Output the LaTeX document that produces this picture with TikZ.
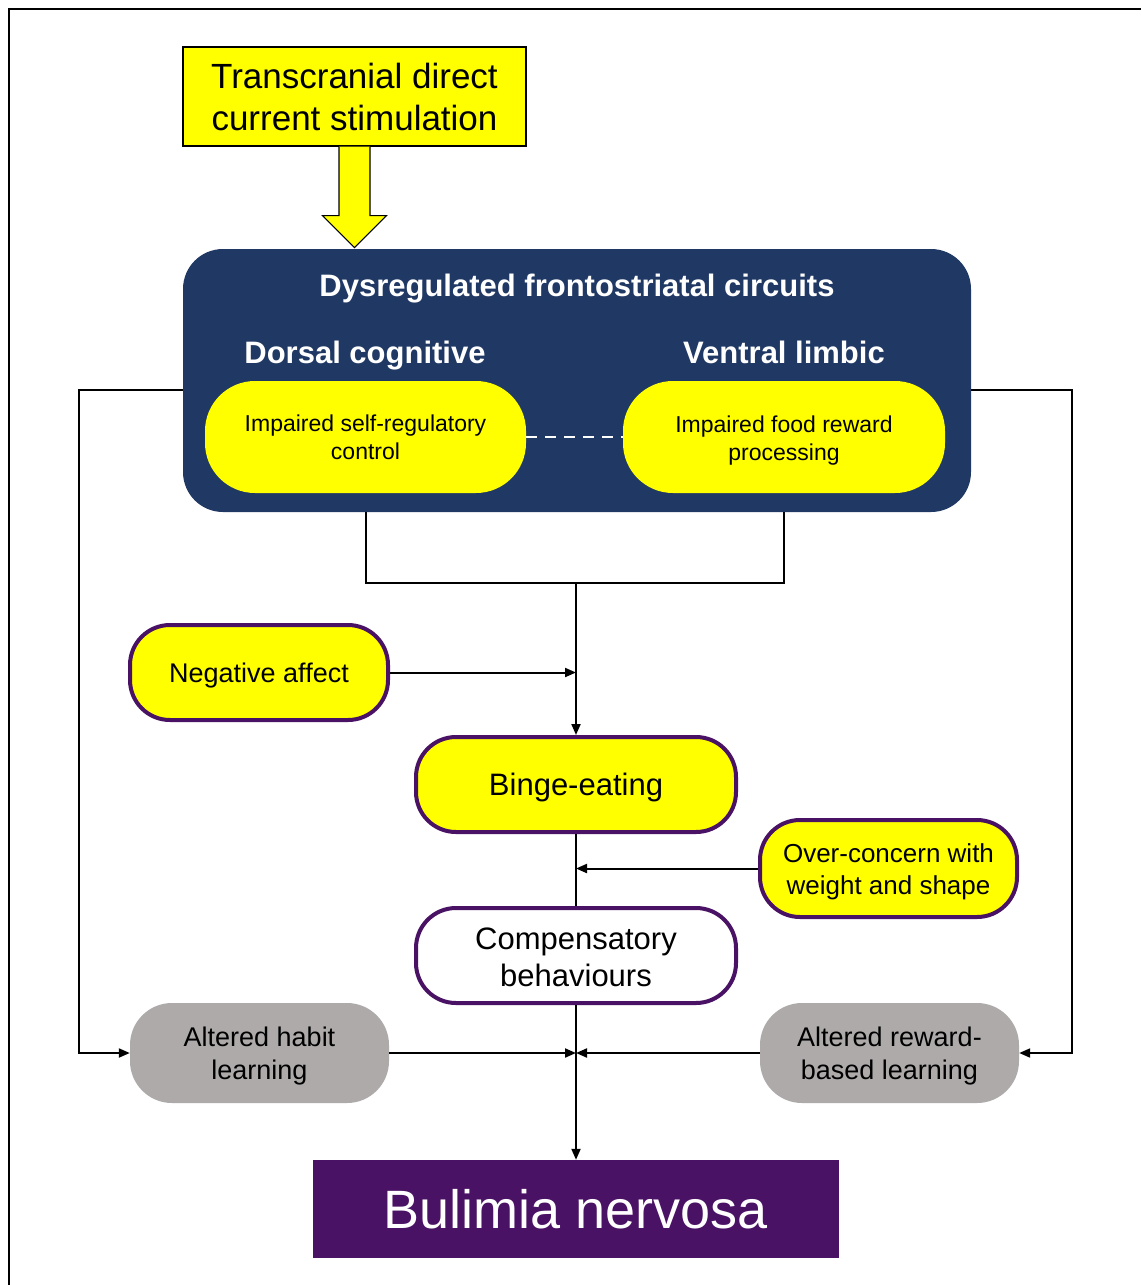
\documentclass[tikz,border=0pt]{standalone}
\usepackage{fontspec}
\setmainfont{Liberation Sans}
\usetikzlibrary{arrows.meta,calc}
\definecolor{navy}{RGB}{32,56,100}
\definecolor{bnpurple}{RGB}{74,18,100}
\definecolor{ygold}{RGB}{255,255,0}
\definecolor{greyfill}{RGB}{174,170,170}
\newcommand{\fsz}[2]{\fontsize{#1pt}{#2pt}\selectfont}
\begin{document}
\begin{tikzpicture}[x=1pt,y=-1pt,
  conn/.style={line width=2pt},
  arr/.style={conn,-{Triangle[length=11pt,width=9pt]}},
  pill/.style={draw=bnpurple,line width=4pt,fill=ygold,rounded corners=40pt,inner sep=0pt,align=center},
  whitepill/.style={pill,fill=white},
  innerpill/.style={fill=ygold,rounded corners=50pt,inner sep=0pt,align=center,font=\fsz{23}{28}},
  greybox/.style={fill=greyfill,rounded corners=42pt,inner sep=0pt,align=center},
  ptext/.style={align=center,inner sep=0pt,text=black},
  headtext/.style={text=white,font=\bfseries\fsz{31}{37},inner sep=0pt}
]
\useasboundingbox (0,0) rectangle (1141,1285);
\fill[white] (0,0) rectangle (1141,1285);
\draw[line width=2.5pt] (9,1285) -- (9,9) -- (1141,9);

% tDCS box
\node[draw=black,line width=1.2pt,fill=ygold,minimum width=343pt,minimum height=99pt,inner sep=0pt,align=center,font=\fsz{35}{42}] (tdcs) at (354.5,96.5) {Transcranial direct\\current stimulation};
\draw[fill=ygold,line width=1.2pt,line join=miter]
  ($(tdcs.south)+(-15.5,0)$) -- ($(tdcs.south)+(-15.5,69)$) -- ($(tdcs.south)+(-32,69)$) --
  ($(tdcs.south)+(0,101)$) -- ($(tdcs.south)+(32,69)$) -- ($(tdcs.south)+(15.5,69)$) --
  ($(tdcs.south)+(15.5,0)$);

% circuits box
\node[fill=navy,rounded corners=40pt,minimum width=788pt,minimum height=263pt,inner sep=0pt] (circ) at (577,380.5) {};
\node[headtext] (title) at (577,289) {Dysregulated frontostriatal circuits};
\node[headtext] (dorsal) at (365,356) {Dorsal cognitive};
\node[headtext] (ventral) at (784,352) {Ventral limbic};
\node[innerpill,minimum width=321pt,minimum height=112pt] (selfreg) at (365.5,437) {Impaired self-regulatory\\control};
\node[innerpill,minimum width=322pt,minimum height=112pt,
  label={[ptext,font=\fsz{23}{28},yshift=-4pt]center:Impaired food reward\\processing}] (food) at (784,437) {};
\draw[white,line width=2pt,dash pattern=on 11pt off 8pt] (selfreg.east) -- (food.west);

% middle column
\coordinate (join) at (576,583);
\node[pill,minimum width=258pt,minimum height=95pt,
  label={[ptext,font=\fsz{27}{33},yshift=-3pt]center:Negative affect}] (neg) at (259,672.5) {};
\node[pill,minimum width=320pt,minimum height=95pt,
  label={[ptext,font=\fsz{31}{37},yshift=-3pt]center:Binge-eating}] (binge) at (576,784.5) {};
\node[pill,minimum width=257pt,minimum height=97pt,
  label={[ptext,font=\fsz{26}{32},yshift=-3pt]center:Over-concern with\\weight and shape}] (over) at (888.5,868.5) {};
\node[whitepill,minimum width=320pt,minimum height=95pt,
  label={[ptext,font=\fsz{31}{37},yshift=-1.5pt]center:Compensatory\\behaviours}] (comp) at (576,955.5) {};
\node[greybox,minimum width=259pt,minimum height=100pt,
  label={[ptext,font=\fsz{27}{33},yshift=-3.5pt]center:Altered habit\\learning}] (habit) at (259.5,1053) {};
\node[greybox,minimum width=259pt,minimum height=100pt,
  label={[ptext,font=\fsz{27}{33},yshift=-3.5pt]center:Altered reward-\\based learning}] (reward) at (889.5,1053) {};
\node[fill=bnpurple,minimum width=526pt,minimum height=98pt,inner sep=0pt,text=white,font=\fsz{54}{60}] (bn) at (576,1209) {Bulimia nervosa};

% connectors
\coordinate (lcorner) at (79,1053);
\coordinate (rcorner) at (1072,1053);
\draw[conn] (selfreg.south |- circ.south) -- (selfreg.south |- join) -- (food.south |- join) -- (food.south |- circ.south);
\draw[arr] (join) -- (binge.north);
\draw[arr] (neg.east) -- (neg.east -| join);
\draw[conn] (binge.south) -- (comp.north);
\draw[arr] (over.west) -- (over.west -| binge.south);
\draw[arr] (comp.south) -- (bn.north);
\draw[arr] (habit.east) -- (habit.east -| comp.south);
\draw[arr] (reward.west) -- (reward.west -| comp.south);
\draw[arr] ([yshift=-9.5pt]circ.west) -| (lcorner) -- (habit.west);
\draw[arr] ([yshift=-9.5pt]circ.east) -| (rcorner) -- (reward.east);
\end{tikzpicture}
\end{document}
